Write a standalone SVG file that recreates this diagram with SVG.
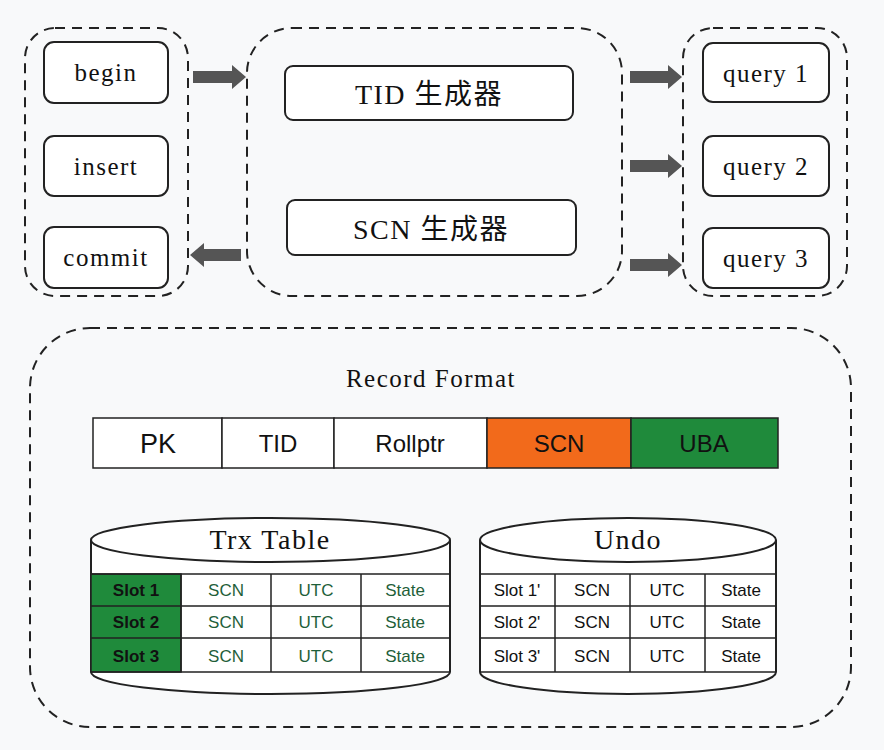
<svg xmlns="http://www.w3.org/2000/svg" width="884" height="750" viewBox="0 0 884 750">
<style>
.dash{fill:none;stroke:#222;stroke-width:2;stroke-dasharray:10,7}
.box{fill:#fff;stroke:#222;stroke-width:2}
.t{font-family:"Liberation Serif","Noto Sans CJK SC",serif;font-size:25px;letter-spacing:1.5px;fill:#111;text-anchor:middle;dominant-baseline:central}
.s{font-family:"Liberation Sans",sans-serif;font-size:27px;fill:#111;text-anchor:middle;dominant-baseline:central}
.c{font-family:"Liberation Sans",sans-serif;font-size:17px;text-anchor:middle;dominant-baseline:central}
.cell{fill:#fff;stroke:#222;stroke-width:1.5}
.arr{fill:#555}
</style>
<rect width="884" height="750" fill="#f8f9fa"/>
<g id="left"><rect class="dash" x="25" y="28" width="163" height="268" rx="30"/></g>
<g id="begin"><rect class="box" x="44" y="42" width="124" height="61" rx="10"/><text class="t" x="106" y="72">begin</text></g>
<g id="insert"><rect class="box" x="44" y="136" width="124" height="60" rx="10"/><text class="t" x="106" y="166">insert</text></g>
<g id="commit"><rect class="box" x="44" y="227" width="124" height="61" rx="10"/><text class="t" x="106" y="257">commit</text></g>
<g id="mid"><rect class="dash" x="247" y="28" width="375" height="268" rx="45"/></g>
<g id="tid"><rect class="box" x="285" y="66" width="288" height="54" rx="8"/><text class="t" x="429" y="94" style="font-size:28px">TID 生成器</text></g>
<g id="scn"><rect class="box" x="287" y="200" width="289" height="55" rx="8"/><text class="t" x="431" y="229" style="font-size:28px">SCN 生成器</text></g>
<g id="right"><rect class="dash" x="683" y="28" width="164" height="268" rx="30"/></g>
<g id="q1"><rect class="box" x="703" y="43" width="126" height="59" rx="10"/><text class="t" x="766" y="73">query 1</text></g>
<g id="q2"><rect class="box" x="703" y="136" width="126" height="60" rx="10"/><text class="t" x="766" y="166">query 2</text></g>
<g id="q3"><rect class="box" x="703" y="228" width="126" height="60" rx="10"/><text class="t" x="766" y="258">query 3</text></g>
<g id="connectors">
<polygon class="arr" points="193,71 232,71 232,65 246,77 232,89 232,83 193,83"/>
<polygon class="arr" points="241,249 204,249 204,243 190,255 204,267 204,261 241,261"/>
<polygon class="arr" points="630,71 668,71 668,65 682,77 668,89 668,83 630,83"/>
<polygon class="arr" points="630,160 668,160 668,154 682,166 668,178 668,172 630,172"/>
<polygon class="arr" points="630,259 668,259 668,253 682,265 668,277 668,271 630,271"/>
</g>
<g id="bottom">
<rect class="dash" x="30" y="328" width="821" height="399" rx="60"/>
<text class="t" x="431" y="378">Record Format</text>
</g>
<g id="record">
<rect class="cell" x="93" y="418" width="129" height="50"/><text class="s" x="158" y="444">PK</text>
<rect class="cell" x="222" y="418" width="112" height="50"/><text class="s" x="278" y="443" style="font-size:24px">TID</text>
<rect class="cell" x="334" y="418" width="153" height="50"/><text class="s" x="410" y="443" style="font-size:24px">Rollptr</text>
<rect x="487" y="418" width="144" height="50" fill="#f26a1b" stroke="#222" stroke-width="1.5"/><text class="s" x="559" y="443" style="font-size:24px">SCN</text>
<rect x="631" y="418" width="147" height="50" fill="#1f8a3b" stroke="#222" stroke-width="1.5"/><text class="s" x="704" y="443" style="font-size:24px">UBA</text>
</g>
<g id="trx">
<path d="M91,540 V672 A179.5,22 0 0 0 450,672 V540" fill="#fff" stroke="#222" stroke-width="2"/>
<ellipse cx="270.5" cy="540" rx="179.5" ry="22" fill="#fff" stroke="#222" stroke-width="2"/>
<text class="t" x="270" y="539" style="font-size:28px">Trx Table</text>
<rect x="91" y="574" width="90" height="98" fill="#1f8a3b" stroke="#222" stroke-width="1.5"/>
<path d="M91,574H450M91,606H450M91,638H450M91,672H450M181,574V672M271,574V672M361,574V672" stroke="#222" stroke-width="1.5" fill="none"/>
<g class="c" fill="#1f5f3a">
<g font-weight="bold" fill="#111"><text x="136" y="590">Slot 1</text><text x="136" y="622">Slot 2</text><text x="136" y="656">Slot 3</text></g>
<text x="226" y="590">SCN</text><text x="316" y="590">UTC</text><text x="405" y="590">State</text>
<text x="226" y="622">SCN</text><text x="316" y="622">UTC</text><text x="405" y="622">State</text>
<text x="226" y="656">SCN</text><text x="316" y="656">UTC</text><text x="405" y="656">State</text>
</g>
</g>
<g id="undo">
<path d="M480,540 V672 A148,22 0 0 0 776,672 V540" fill="#fff" stroke="#222" stroke-width="2"/>
<ellipse cx="628" cy="540" rx="148" ry="22" fill="#fff" stroke="#222" stroke-width="2"/>
<text class="t" x="628" y="539" style="font-size:28px">Undo</text>
<path d="M480,574H776M480,606H776M480,638H776M480,672H776M555,574V672M630,574V672M705,574V672" stroke="#222" stroke-width="1.5" fill="none"/>
<g class="c" fill="#111">
<text x="517" y="590">Slot 1'</text><text x="592" y="590">SCN</text><text x="667" y="590">UTC</text><text x="741" y="590">State</text>
<text x="517" y="622">Slot 2'</text><text x="592" y="622">SCN</text><text x="667" y="622">UTC</text><text x="741" y="622">State</text>
<text x="517" y="656">Slot 3'</text><text x="592" y="656">SCN</text><text x="667" y="656">UTC</text><text x="741" y="656">State</text>
</g>
</g>
</svg>
